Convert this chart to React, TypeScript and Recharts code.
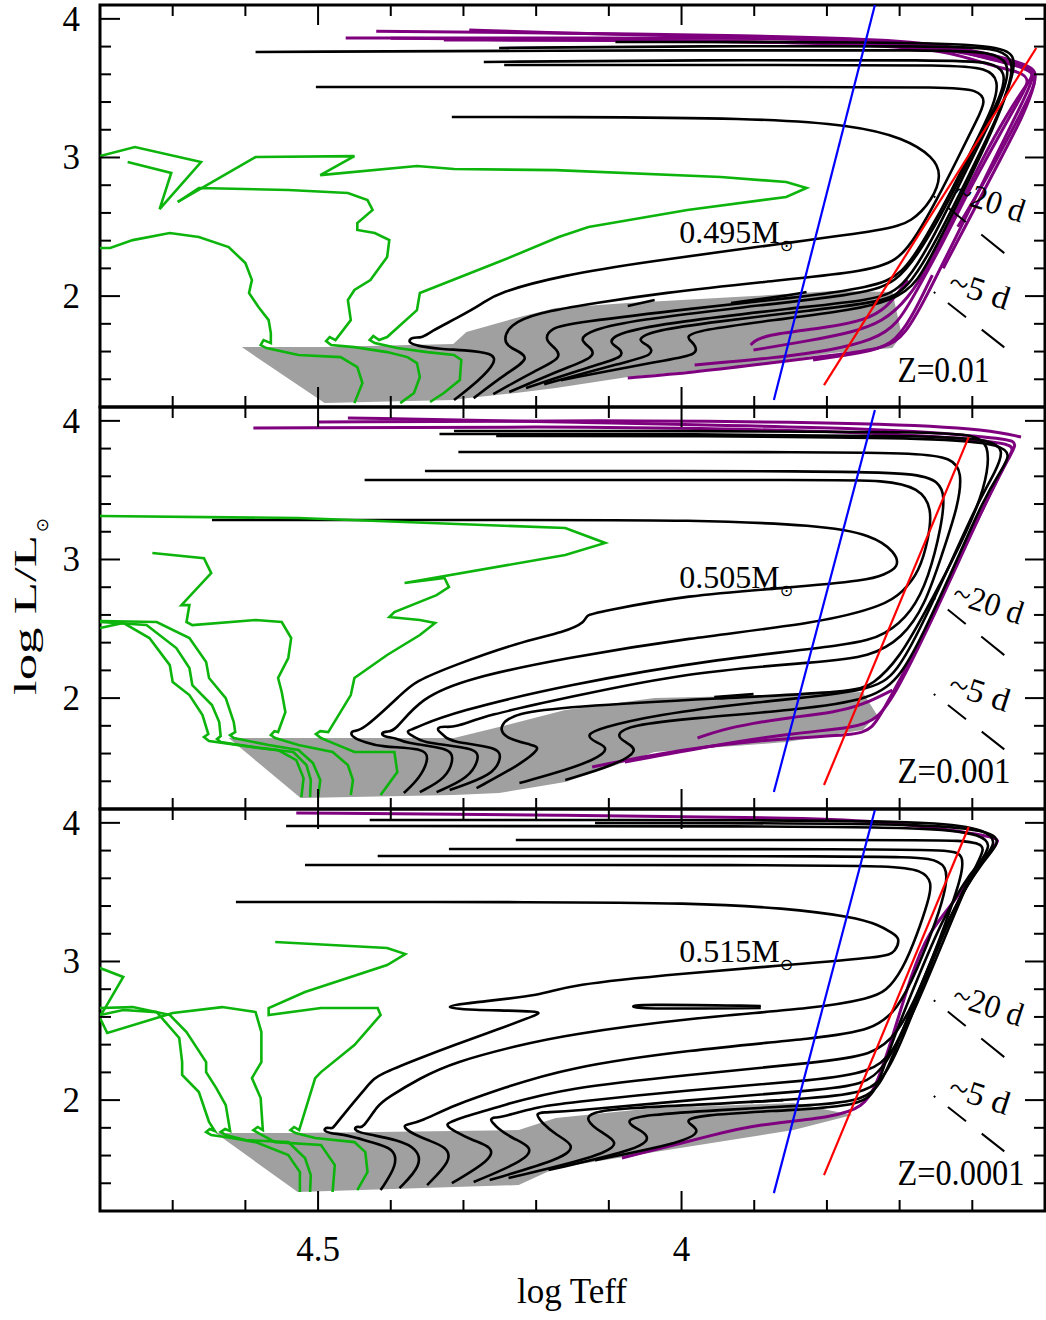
import React from "react";
import { ComposedChart, Line, Area, Scatter, XAxis, YAxis, ReferenceArea } from "recharts";

const FONT = "'Liberation Serif', 'DejaVu Serif', serif";
const BLACK = "#000000";
const GREEN = "#0cb40c";
const PURPLE = "#7f007f";
const GRAY = "#a0a0a0";

// axis ticks
const X_TICKS = [3.6, 3.7, 3.8, 3.9, 4, 4.1, 4.2, 4.3, 4.4, 4.5, 4.6, 4.7];
const Y_TICKS = [1.4, 1.6, 1.8, 2, 2.2, 2.4, 2.6, 2.8, 3, 3.2, 3.4, 3.6, 3.8, 4];

// period lines (same in every panel): [logTeff, logL]
const DASH_20 = [[3.653, 2.72], [3.556, 2.31]];
const DASH_5 = [[3.653, 2.03], [3.556, 1.63]];

// ---------- Z = 0.01 ----------
const GRAY_Z01 = [[4.605, 1.632, 1.632], [4.491, 1.228, 1.632], [4.314, 1.25, 1.654], [4.296, 1.264, 1.741], [4.228, 1.301, 1.842], [4.173, 1.337, 1.914], [4.074, 1.416, 1.95], [3.901, 1.503, 2.0], [3.792, 1.589, 2.036], [3.71, 1.625, 2.029], [3.697, 1.719, 1.719]];
const B1_Z01 = [[4.313, 1.25], [4.278, 1.394], [4.255, 1.524], [4.259, 1.589], [4.3, 1.611], [4.332, 1.618], [4.364, 1.64], [4.377, 1.668], [4.371, 1.705], [4.357, 1.697], [4.346, 1.741], [4.309, 1.842], [4.272, 1.95], [4.255, 2.022], [4.163, 2.152], [4.05, 2.246], [3.856, 2.383], [3.719, 2.477], [3.683, 2.534], [3.655, 2.693], [3.642, 2.873], [3.653, 3.003], [3.694, 3.14], [3.764, 3.234], [3.901, 3.285], [4.173, 3.292], [4.316, 3.292]];
const B2_Z01 = [[4.286, 1.264], [4.241, 1.445], [4.204, 1.56], [4.237, 1.625], [4.245, 1.683], [4.237, 1.791], [4.2, 1.878], [4.119, 1.95], [4.027, 2.022], [3.891, 2.101], [3.751, 2.174], [3.703, 2.246], [3.676, 2.44], [3.649, 2.693], [3.621, 2.982], [3.594, 3.27], [3.58, 3.415], [3.594, 3.487], [3.628, 3.508], [3.846, 3.508], [4.119, 3.508], [4.503, 3.508]];
const B3_Z01 = [[4.259, 1.293], [4.2, 1.466], [4.164, 1.553], [4.173, 1.625], [4.189, 1.683], [4.18, 1.77], [4.15, 1.806], [3.982, 1.914], [3.846, 1.986], [3.737, 2.065], [3.696, 2.152], [3.662, 2.44], [3.628, 2.765], [3.594, 3.126], [3.57, 3.378], [3.563, 3.559], [3.58, 3.645], [3.628, 3.667], [3.846, 3.667], [4.244, 3.667]];
const B4_Z01 = [[4.237, 1.308], [4.16, 1.481], [4.119, 1.56], [4.123, 1.625], [4.142, 1.683], [4.125, 1.755], [4.064, 1.827], [3.914, 1.921], [3.764, 2.008], [3.703, 2.08], [3.662, 2.404], [3.621, 2.801], [3.585, 3.198], [3.56, 3.451], [3.553, 3.617], [3.574, 3.689], [3.628, 3.703], [3.982, 3.703], [4.272, 3.689]];
const B5_Z01 = [[4.214, 1.337], [4.119, 1.503], [4.078, 1.56], [4.085, 1.625], [4.102, 1.668], [4.085, 1.741], [4.01, 1.813], [3.846, 1.914], [3.737, 1.972], [3.696, 2.044], [3.655, 2.404], [3.615, 2.837], [3.574, 3.27], [3.553, 3.523], [3.549, 3.689], [3.574, 3.761], [3.642, 3.775], [3.982, 3.775], [4.586, 3.761]];
const B6_Z01 = [[4.189, 1.365], [4.078, 1.524], [4.037, 1.575], [4.044, 1.647], [4.064, 1.683], [4.037, 1.755], [3.955, 1.813], [3.819, 1.899], [3.724, 1.957], [3.689, 2.044], [3.649, 2.404], [3.608, 2.837], [3.567, 3.27], [3.546, 3.559], [3.544, 3.718], [3.567, 3.79], [3.642, 3.804], [3.982, 3.804], [4.251, 3.79]];
const B7_Z01 = [[4.166, 1.394], [4.023, 1.539], [3.976, 1.575], [3.982, 1.661], [3.996, 1.705], [3.976, 1.755], [3.873, 1.827], [3.764, 1.899], [3.71, 1.972], [3.676, 2.08], [3.642, 2.44], [3.601, 2.873], [3.563, 3.306], [3.544, 3.595], [3.54, 3.739], [3.567, 3.811], [3.71, 3.833], [4.091, 3.833]];
const S1_Z01 = [[4.074, 1.928], [4.037, 1.972]];
const S2_Z01 = [[3.932, 1.95], [3.86, 2.0], [3.828, 2.029]];
const P1_Z01 = [[4.074, 1.409], [3.982, 1.452], [3.901, 1.503], [3.788, 1.575], [3.719, 1.625], [3.692, 1.719], [3.662, 2.008], [3.628, 2.368], [3.594, 2.729], [3.56, 3.09], [3.533, 3.378], [3.515, 3.573], [3.519, 3.645], [3.546, 3.689], [3.601, 3.761], [3.71, 3.833], [3.982, 3.876], [4.173, 3.898], [4.292, 3.92]];
const P2_Z01 = [[3.901, 1.611], [3.819, 1.683], [3.764, 1.741], [3.724, 1.813], [3.689, 1.972], [3.655, 2.26], [3.621, 2.621], [3.587, 2.982], [3.553, 3.306], [3.526, 3.523], [3.512, 3.617], [3.533, 3.66], [3.587, 3.718], [3.655, 3.833], [3.846, 3.862], [4.119, 3.862], [4.462, 3.862]];
const P3_Z01 = [[3.982, 1.503], [3.873, 1.553], [3.792, 1.611], [3.737, 1.683], [3.703, 1.791], [3.676, 2.044], [3.642, 2.368], [3.608, 2.729], [3.574, 3.054], [3.54, 3.378], [3.519, 3.559], [3.533, 3.617], [3.574, 3.66], [3.628, 3.761], [3.71, 3.811], [3.982, 3.847], [4.327, 3.847]];
const P4_Z01 = [[3.905, 1.647], [3.891, 1.719], [3.801, 1.77], [3.747, 1.827], [3.717, 1.914], [3.689, 2.116]];
const P5_Z01 = [[3.819, 1.539], [3.751, 1.589], [3.71, 1.647], [3.685, 1.827], [3.655, 2.152]];
const P6_Z01 = [[3.64, 2.2], [3.6, 2.6], [3.56, 3.0], [3.53, 3.3], [3.512, 3.55], [3.515, 3.62], [3.56, 3.7], [3.64, 3.79], [3.8, 3.83], [4.1, 3.85], [4.4, 3.86]];
const P7_Z01 = [[3.62, 2.5], [3.58, 2.85], [3.545, 3.2], [3.52, 3.45], [3.508, 3.62], [3.53, 3.68], [3.6, 3.78], [3.7, 3.85], [3.9, 3.88], [4.2, 3.9], [4.42, 3.91]];
const G1_Z01 = [[4.45, 1.228], [4.439, 1.373], [4.446, 1.488], [4.469, 1.56], [4.527, 1.575], [4.571, 1.625], [4.579, 1.647], [4.575, 1.683], [4.565, 1.661], [4.565, 1.733], [4.568, 1.827], [4.582, 1.921], [4.595, 2.022], [4.591, 2.116], [4.6, 2.238], [4.623, 2.354], [4.664, 2.426], [4.704, 2.455], [4.755, 2.404], [4.786, 2.347], [4.8, 2.347]];
const G2_Z01 = [[4.387, 1.228], [4.368, 1.301], [4.36, 1.416], [4.364, 1.517], [4.377, 1.56], [4.405, 1.596], [4.45, 1.632], [4.482, 1.647], [4.489, 1.676], [4.484, 1.705], [4.476, 1.683], [4.455, 1.827], [4.459, 1.972], [4.45, 2.044], [4.428, 2.116], [4.405, 2.282], [4.402, 2.404], [4.422, 2.455], [4.446, 2.477], [4.446, 2.527], [4.425, 2.621], [4.432, 2.693], [4.459, 2.744], [4.541, 2.765], [4.664, 2.78], [4.693, 2.679]];
const G3_Z01 = [[4.346, 1.236], [4.327, 1.301], [4.305, 1.394], [4.303, 1.539], [4.313, 1.575], [4.35, 1.596], [4.391, 1.625], [4.422, 1.661], [4.429, 1.683], [4.424, 1.712], [4.416, 1.683], [4.405, 1.705], [4.364, 1.899], [4.36, 2.022], [4.245, 2.26], [4.169, 2.426], [4.128, 2.498], [3.992, 2.621], [3.856, 2.715], [3.828, 2.78], [3.856, 2.823], [3.946, 2.859], [4.173, 2.909], [4.313, 2.917], [4.364, 2.938], [4.497, 2.873], [4.45, 3.01], [4.586, 3.003], [4.693, 2.679]];
const GZ_Z01 = [[4.762, 2.967], [4.702, 2.888], [4.718, 2.628], [4.661, 2.967], [4.752, 3.075], [4.8, 3.01]];
const BLUE_Z01 = [[3.873, 1.25], [3.734, 4.1]];
const RED_Z01 = [[3.804, 1.358], [3.512, 3.79]];
const LABELS_Z01 = [
  { x: 4.003, y: 2.383, kind: "mass", text: "0.495M" },
  { x: 3.703, y: 1.38, kind: "z", text: "Z=0.01" },
  { x: 3.576, y: 2.686, kind: "per", text: "~20 d" },
  { x: 3.59, y: 2.044, kind: "per", text: "~5 d" },
];

// ---------- Z = 0.001 ----------
const GRAY_Z001 = [[4.623, 1.712, 1.712], [4.524, 1.279, 1.712], [4.313, 1.301, 1.712], [4.251, 1.315, 1.791], [4.16, 1.394, 1.914], [4.037, 1.611, 2.0], [3.856, 1.683, 2.022], [3.751, 1.77, 2.044], [3.731, 1.878, 1.878]];
const B1_Z001 = [[4.382, 1.315], [4.36, 1.423], [4.347, 1.567], [4.354, 1.64], [4.414, 1.647], [4.436, 1.683], [4.45, 1.712], [4.456, 1.741], [4.451, 1.77], [4.441, 1.755], [4.382, 2.044], [4.368, 2.116], [4.313, 2.238], [4.223, 2.404], [4.16, 2.477], [4.132, 2.549], [4.132, 2.599], [4.114, 2.621], [3.992, 2.744], [3.856, 2.794], [3.741, 2.852], [3.723, 2.888], [3.7, 2.946], [3.706, 3.054], [3.737, 3.176], [3.809, 3.249], [3.992, 3.285], [4.173, 3.285], [4.646, 3.285]];
const B2_Z001 = [[4.36, 1.322], [4.323, 1.423], [4.313, 1.567], [4.319, 1.64], [4.382, 1.676], [4.391, 1.712], [4.409, 1.719], [4.414, 1.748], [4.405, 1.762], [4.395, 1.755], [4.36, 2.0], [4.292, 2.145], [4.16, 2.289], [3.992, 2.433], [3.809, 2.542], [3.719, 2.671], [3.696, 2.765], [3.673, 2.909], [3.66, 3.155], [3.655, 3.371], [3.673, 3.516], [3.719, 3.573], [3.809, 3.573], [4.173, 3.573], [4.436, 3.573]];
const B3_Z001 = [[4.337, 1.322], [4.292, 1.423], [4.278, 1.567], [4.282, 1.64], [4.354, 1.676], [4.364, 1.712], [4.373, 1.733], [4.379, 1.762], [4.369, 1.777], [4.364, 1.791], [4.313, 1.899], [4.16, 2.094], [3.946, 2.289], [3.764, 2.383], [3.719, 2.455], [3.683, 2.621], [3.66, 2.866], [3.642, 3.249], [3.638, 3.465], [3.646, 3.559], [3.673, 3.624], [3.809, 3.638], [4.173, 3.638], [4.353, 3.638]];
const B4_Z001 = [[4.319, 1.337], [4.259, 1.445], [4.248, 1.567], [4.251, 1.647], [4.319, 1.683], [4.327, 1.733], [4.333, 1.755], [4.337, 1.784], [4.327, 1.798], [4.313, 1.784], [4.268, 1.878], [4.16, 2.0], [3.992, 2.188], [3.809, 2.26], [3.741, 2.296], [3.696, 2.433], [3.665, 2.671], [3.642, 3.032], [3.619, 3.393], [3.614, 3.631], [3.628, 3.732], [3.673, 3.768], [3.809, 3.775], [4.173, 3.775], [4.307, 3.775]];
const B5_Z001 = [[4.282, 1.351], [4.223, 1.517], [4.193, 1.64], [4.204, 1.661], [4.245, 1.712], [4.251, 1.806], [4.228, 1.892], [4.16, 1.936], [3.946, 2.0], [3.764, 2.044], [3.737, 2.094], [3.7, 2.289], [3.665, 2.621], [3.628, 2.982], [3.591, 3.393], [3.578, 3.645], [3.578, 3.826], [3.594, 3.898], [3.655, 3.92], [3.982, 3.927], [4.313, 3.927]];
const B6_Z001 = [[4.223, 1.387], [4.173, 1.459], [4.119, 1.553], [4.098, 1.64], [4.119, 1.683], [4.132, 1.733], [4.112, 1.784], [4.037, 1.878], [3.901, 1.972], [3.737, 2.044], [3.703, 2.188], [3.669, 2.527], [3.628, 2.996], [3.594, 3.393], [3.567, 3.645], [3.556, 3.79], [3.574, 3.862], [3.642, 3.891], [3.982, 3.905], [4.333, 3.905]];
const B7_Z001 = [[4.16, 1.409], [4.091, 1.517], [4.057, 1.625], [4.078, 1.683], [4.091, 1.733], [4.071, 1.806], [3.982, 1.856], [3.846, 1.914], [3.737, 1.986], [3.696, 2.166], [3.662, 2.527], [3.621, 2.996], [3.585, 3.429], [3.56, 3.645], [3.547, 3.754], [3.56, 3.826], [3.628, 3.876], [3.982, 3.891], [4.255, 3.891]];
const S1_Z001 = [[3.955, 2.008], [3.901, 2.029]];
const P1_Z001 = [[4.123, 1.503], [3.992, 1.64], [3.856, 1.712], [3.764, 1.733], [3.737, 1.77], [3.719, 1.95], [3.673, 2.383], [3.628, 2.909], [3.583, 3.393], [3.546, 3.775], [3.535, 3.862], [3.583, 3.883], [3.719, 3.948], [4.173, 3.992], [4.459, 4.021]];
const P2_Z001 = [[4.078, 1.539], [3.955, 1.661], [3.846, 1.748], [3.764, 1.784], [3.73, 1.842], [3.703, 2.058], [3.662, 2.491], [3.621, 2.96], [3.58, 3.429], [3.549, 3.754], [3.539, 3.826], [3.587, 3.862], [3.737, 3.92], [4.119, 3.963], [4.589, 3.948]];
const P3_Z001 = [[3.978, 1.712], [3.946, 1.77], [3.901, 1.82], [3.856, 1.856], [3.788, 1.899], [3.751, 1.95], [3.71, 2.058]];
const P4_Z001 = [[3.533, 3.883], [3.574, 3.934], [3.71, 3.985], [4.119, 4.006], [4.5, 3.992]];
const G1_Z001 = [[4.414, 1.301], [4.391, 1.466], [4.395, 1.611], [4.45, 1.611], [4.486, 1.69], [4.496, 1.712], [4.503, 1.741], [4.497, 1.762], [4.486, 1.755], [4.455, 2.022], [4.45, 2.145], [4.405, 2.311], [4.36, 2.455], [4.339, 2.542], [4.36, 2.563], [4.402, 2.585], [4.395, 2.621], [4.337, 2.743], [4.32, 2.801], [4.326, 2.866], [4.381, 2.83], [4.16, 3.032], [4.105, 3.119], [4.16, 3.227], [4.527, 3.299], [4.8, 3.314]];
const G2_Z001 = [[4.455, 1.301], [4.452, 1.409], [4.459, 1.517], [4.48, 1.611], [4.527, 1.661], [4.559, 1.712], [4.565, 1.733], [4.56, 1.762], [4.555, 1.755], [4.545, 1.899], [4.55, 2.044], [4.555, 2.145], [4.541, 2.289], [4.537, 2.433], [4.55, 2.549], [4.586, 2.563], [4.673, 2.527], [4.681, 2.549], [4.677, 2.671], [4.688, 2.671], [4.647, 2.902], [4.657, 3.01], [4.728, 3.047]];
const G3_Z001 = [[4.523, 1.286], [4.52, 1.423], [4.53, 1.553], [4.555, 1.625], [4.609, 1.661], [4.65, 1.69], [4.657, 1.719], [4.651, 1.741], [4.659, 1.878], [4.677, 2.022], [4.7, 2.116], [4.704, 2.238], [4.732, 2.433], [4.768, 2.542], [4.8, 2.505]];
const G4_Z001 = [[4.511, 1.286], [4.51, 1.409], [4.516, 1.517], [4.534, 1.611], [4.582, 1.64], [4.634, 1.683], [4.639, 1.705], [4.634, 1.726], [4.636, 1.827], [4.646, 1.95], [4.673, 2.094], [4.677, 2.217], [4.695, 2.361], [4.736, 2.527], [4.8, 2.549]];
const G5_Z001 = [[4.5, 1.286], [4.497, 1.409], [4.507, 1.531], [4.527, 1.625], [4.568, 1.661], [4.616, 1.712], [4.621, 1.733], [4.614, 1.755], [4.616, 1.827], [4.627, 2.0], [4.65, 2.145], [4.654, 2.26], [4.677, 2.433], [4.722, 2.549], [4.8, 2.556]];
const BLUE_Z001 = [[3.873, 1.322], [3.734, 4.078]];
const RED_Z001 = [[3.804, 1.373], [3.605, 3.883]];
const LABELS_Z001 = [
  { x: 4.003, y: 2.794, kind: "mass", text: "0.505M" },
  { x: 3.703, y: 1.387, kind: "z", text: "Z=0.001" },
  { x: 3.578, y: 2.686, kind: "per", text: "~20 d" },
  { x: 3.59, y: 2.044, kind: "per", text: "~5 d" },
];

// ---------- Z = 0.0001 ----------
const GRAY_Z0001 = [[4.641, 1.762, 1.762], [4.528, 1.337, 1.762], [4.224, 1.387, 1.784], [4.173, 1.51, 1.871], [4.037, 1.625, 1.943], [3.846, 1.784, 1.979], [3.765, 1.892, 1.892]];
const B1_Z0001 = [[4.414, 1.351], [4.391, 1.531], [4.395, 1.654], [4.428, 1.697], [4.459, 1.748], [4.486, 1.762], [4.493, 1.784], [4.488, 1.806], [4.48, 1.791], [4.477, 1.82], [4.428, 2.13], [4.418, 2.181], [4.36, 2.303], [4.313, 2.397], [4.255, 2.505], [4.2, 2.614], [4.187, 2.643], [4.296, 2.65], [4.33, 2.671], [4.296, 2.7], [4.187, 2.758], [4.16, 2.83], [3.992, 2.917], [3.856, 2.974], [3.719, 3.032], [3.706, 3.068], [3.699, 3.169], [3.71, 3.205], [3.728, 3.263], [3.764, 3.321], [3.856, 3.386], [3.992, 3.422], [4.173, 3.429], [4.613, 3.429]];
const B2_Z0001 = [[4.388, 1.365], [4.357, 1.531], [4.364, 1.654], [4.391, 1.712], [4.425, 1.748], [4.446, 1.77], [4.451, 1.798], [4.444, 1.813], [4.439, 1.791], [4.418, 1.964], [4.405, 2.015], [4.36, 2.159], [4.313, 2.274], [4.223, 2.397], [4.16, 2.469], [3.992, 2.592], [3.809, 2.664], [3.741, 2.736], [3.719, 2.78], [3.696, 2.938], [3.676, 3.191], [3.66, 3.443], [3.655, 3.573], [3.669, 3.66], [3.71, 3.689], [3.846, 3.696], [4.518, 3.696]];
const B3_Z0001 = [[4.35, 1.387], [4.316, 1.567], [4.323, 1.661], [4.35, 1.712], [4.371, 1.762], [4.377, 1.784], [4.383, 1.813], [4.376, 1.827], [4.36, 1.842], [4.313, 1.964], [4.245, 2.087], [4.16, 2.231], [3.992, 2.361], [3.809, 2.448], [3.737, 2.505], [3.703, 2.65], [3.676, 2.938], [3.649, 3.299], [3.635, 3.552], [3.635, 3.689], [3.655, 3.746], [3.71, 3.761], [4.418, 3.761]];
const B4_Z0001 = [[4.316, 1.401], [4.262, 1.567], [4.259, 1.661], [4.289, 1.712], [4.312, 1.777], [4.319, 1.798], [4.324, 1.827], [4.317, 1.842], [4.305, 1.871], [4.245, 1.964], [4.16, 2.087], [3.992, 2.181], [3.809, 2.274], [3.737, 2.325], [3.703, 2.469], [3.669, 2.83], [3.635, 3.299], [3.614, 3.624], [3.612, 3.768], [3.628, 3.804], [3.71, 3.811], [4.32, 3.811]];
const B5_Z0001 = [[4.286, 1.409], [4.214, 1.567], [4.204, 1.661], [4.234, 1.726], [4.255, 1.806], [4.259, 1.834], [4.264, 1.863], [4.256, 1.878], [4.251, 1.871], [4.2, 1.95], [4.16, 1.979], [3.992, 2.073], [3.809, 2.145], [3.741, 2.202], [3.71, 2.325], [3.676, 2.686], [3.642, 3.119], [3.608, 3.552], [3.587, 3.768], [3.583, 3.84], [3.608, 3.876], [3.71, 3.876], [4.228, 3.876]];
const B6_Z0001 = [[4.264, 1.423], [4.16, 1.582], [4.146, 1.676], [4.173, 1.748], [4.193, 1.842], [4.196, 1.871], [4.2, 1.899], [4.192, 1.914], [4.16, 1.914], [3.992, 2.0], [3.809, 2.073], [3.751, 2.109], [3.719, 2.231], [3.683, 2.65], [3.649, 3.083], [3.614, 3.516], [3.587, 3.732], [3.574, 3.84], [3.587, 3.912], [3.642, 3.963], [3.846, 3.977], [4.544, 3.977]];
const B7_Z0001 = [[4.238, 1.438], [4.105, 1.604], [4.085, 1.697], [4.112, 1.77], [4.132, 1.856], [4.125, 1.914], [4.078, 1.943], [3.982, 1.964], [3.809, 2.015], [3.744, 2.058], [3.717, 2.181], [3.685, 2.578], [3.655, 3.011], [3.621, 3.443], [3.58, 3.768], [3.567, 3.862], [3.58, 3.948], [3.642, 4.006], [3.846, 4.021], [4.429, 4.021]];
const B8_Z0001 = [[4.183, 1.495], [4.05, 1.654], [4.044, 1.748], [4.064, 1.798], [4.078, 1.856], [4.05, 1.892], [3.955, 1.928], [3.809, 1.964], [3.751, 2.0], [3.724, 2.109], [3.696, 2.505], [3.662, 2.938], [3.628, 3.371], [3.587, 3.718], [3.56, 3.862], [3.574, 3.934], [3.642, 3.992], [3.982, 3.999], [4.119, 3.999]];
const B9_Z0001 = [[4.119, 1.567], [3.982, 1.712], [3.976, 1.798], [3.996, 1.842], [3.982, 1.892], [3.846, 1.928], [3.751, 1.964], [3.731, 2.073], [3.71, 2.433], [3.676, 2.866], [3.642, 3.299], [3.601, 3.66], [3.574, 3.804]];
const S1_Z0001 = [[3.905, 1.986], [3.86, 2.0]];
const LOOP_Z0001 = [[3.891, 2.679], [4.064, 2.693], [4.07, 2.671], [4.05, 2.657], [3.891, 2.664]];
const P1_Z0001 = [[4.082, 1.582], [3.946, 1.762], [3.901, 1.82], [3.788, 1.878], [3.751, 1.95], [3.733, 2.087], [3.71, 2.448], [3.683, 2.924], [3.66, 3.212], [3.628, 3.407], [3.574, 3.818], [3.56, 3.876], [3.578, 3.905], [3.628, 3.948], [3.719, 4.006], [3.809, 4.035], [4.173, 4.057], [4.53, 4.071]];
const G1_Z0001 = [[4.525, 1.337], [4.525, 1.481], [4.541, 1.604], [4.586, 1.697], [4.619, 1.726], [4.647, 1.748], [4.654, 1.77], [4.649, 1.791], [4.642, 1.777], [4.65, 1.842], [4.664, 2.058], [4.687, 2.181], [4.687, 2.274], [4.691, 2.448], [4.722, 2.635], [4.768, 2.65], [4.8, 2.614]];
const G2_Z0001 = [[4.511, 1.337], [4.51, 1.459], [4.518, 1.582], [4.541, 1.697], [4.6, 1.712], [4.627, 1.748], [4.634, 1.77], [4.628, 1.791], [4.621, 1.777], [4.627, 1.964], [4.64, 2.087], [4.654, 2.202], [4.654, 2.274], [4.681, 2.491], [4.704, 2.614], [4.755, 2.671], [4.8, 2.664]];
const G3_Z0001 = [[4.48, 1.337], [4.477, 1.531], [4.496, 1.676], [4.559, 1.697], [4.582, 1.762], [4.589, 1.784], [4.583, 1.806], [4.576, 1.784], [4.579, 2.015], [4.591, 2.159], [4.578, 2.274], [4.578, 2.491], [4.586, 2.635], [4.632, 2.671], [4.7, 2.628], [4.79, 2.484], [4.8, 2.592]];
const G4_Z0001 = [[4.446, 1.351], [4.432, 1.481], [4.435, 1.625], [4.45, 1.697], [4.504, 1.726], [4.531, 1.762], [4.538, 1.784], [4.533, 1.806], [4.526, 1.784], [4.504, 2.159], [4.496, 2.202], [4.45, 2.397], [4.414, 2.614], [4.418, 2.664], [4.496, 2.664], [4.568, 2.614], [4.568, 2.664], [4.518, 2.78], [4.405, 2.974], [4.38, 3.054], [4.405, 3.097], [4.559, 3.14]];
const GZ_Z0001 = [[4.8, 2.953], [4.768, 2.888], [4.793, 2.664], [4.8, 2.606]];
const BLUE_Z0001 = [[3.873, 1.329], [3.734, 4.093]];
const RED_Z0001 = [[3.804, 1.459], [3.605, 3.97]];
const LABELS_Z0001 = [
  { x: 4.003, y: 2.996, kind: "mass", text: "0.515M" },
  { x: 3.703, y: 1.387, kind: "z", text: "Z=0.0001" },
  { x: 3.578, y: 2.686, kind: "per", text: "~20 d" },
  { x: 3.59, y: 2.036, kind: "per", text: "~5 d" },
];

// rendered widths of the label strings (px)
const TEXT_WIDTH: Record<string, number> = {
  "Z=0.01": 92, "Z=0.001": 113, "Z=0.0001": 127,
  "~20 d": 72, "~5 d": 62,
};

const pts = (a: number[][]) => a.map(([x, y]) => ({ x, y }));
const band = (a: number[][]) => a.map(([x, lo, hi]) => ({ x, y: [lo, hi] }));

const PANELS = [
  {
    gray: GRAY_Z01,
    black: [B1_Z01, B2_Z01, B3_Z01, B4_Z01, B5_Z01, B6_Z01, B7_Z01, S1_Z01, S2_Z01],
    purple: [P1_Z01, P2_Z01, P3_Z01, P4_Z01, P5_Z01, P6_Z01, P7_Z01],
    green: [G1_Z01, G2_Z01, G3_Z01, GZ_Z01],
    blue: BLUE_Z01, red: RED_Z01, labels: LABELS_Z01,
  },
  {
    gray: GRAY_Z001,
    black: [B1_Z001, B2_Z001, B3_Z001, B4_Z001, B5_Z001, B6_Z001, B7_Z001, S1_Z001],
    purple: [P1_Z001, P2_Z001, P3_Z001, P4_Z001],
    green: [G1_Z001, G2_Z001, G3_Z001, G4_Z001, G5_Z001],
    blue: BLUE_Z001, red: RED_Z001, labels: LABELS_Z001,
  },
  {
    gray: GRAY_Z0001,
    black: [B1_Z0001, B2_Z0001, B3_Z0001, B4_Z0001, B5_Z0001, B6_Z0001, B7_Z0001, B8_Z0001, B9_Z0001, S1_Z0001, LOOP_Z0001],
    purple: [P1_Z0001],
    green: [G1_Z0001, G2_Z0001, G3_Z0001, G4_Z0001, GZ_Z0001],
    blue: BLUE_Z0001, red: RED_Z0001, labels: LABELS_Z0001,
  },
];

const isHalf = (v: number) => Math.abs(v * 2 - Math.round(v * 2)) < 1e-6;
const isInt = (v: number) => Math.abs(v - Math.round(v)) < 1e-6;

function XTick(props: any) {
  const { x, y, payload, side, showLabel } = props;
  const v = payload.value;
  const major = isHalf(v);
  const len = major ? 20 : 11;
  const dir = side === "bottom" ? -1 : 1;
  return (
    <g>
      <line x1={x} x2={x} y1={y} y2={y + dir * len} stroke={BLACK} strokeWidth={2} />
      {showLabel && major && (
        <text x={x} y={y + 50} textAnchor="middle" fontFamily={FONT} fontSize={35}>
          {String(v)}
        </text>
      )}
    </g>
  );
}

function YTick(props: any) {
  const { x, y, payload, side } = props;
  const v = payload.value;
  const major = isInt(v);
  const len = major ? 20 : 11;
  const dir = side === "left" ? 1 : -1;
  return (
    <g>
      <line x1={x} x2={x + dir * len} y1={y} y2={y} stroke={BLACK} strokeWidth={2} />
      {side === "left" && major && (
        <text x={x - 20} y={y + 12} textAnchor="end" fontFamily={FONT} fontSize={35}>
          {String(v)}
        </text>
      )}
    </g>
  );
}

function renderLabel(props: any) {
  const { cx, cy, payload } = props;
  const w = TEXT_WIDTH[payload.text];
  if (payload.kind === "per") {
    return (
      <text x={cx} y={cy} textAnchor="middle" dominantBaseline="central" transform={`rotate(18 ${cx} ${cy})`}
        fontFamily={FONT} fontSize={33} textLength={w} lengthAdjust="spacingAndGlyphs">
        {payload.text}
      </text>
    );
  }
  if (payload.kind === "mass") {
    return (
      <g>
        <text x={cx} y={cy} fontFamily={FONT} fontSize={32}>
          {payload.text}
        </text>
        <text x={cx + 107} y={cy + 2} textAnchor="middle" dominantBaseline="central" fontFamily="'DejaVu Sans'" fontSize={16}>
          ⊙
        </text>
      </g>
    );
  }
  return (
    <text x={cx} y={cy} fontFamily={FONT} fontSize={35} textLength={w} lengthAdjust="spacingAndGlyphs">
      {payload.text}
    </text>
  );
}

const axisCommon = {
  type: "number" as const,
  allowDataOverflow: true,
  mirror: true,
  axisLine: false,
  tickLine: false,
  tickSize: 0,
  tickMargin: 0,
  interval: 0 as const,
};

function Panel({ cfg, top, last }: { cfg: any; top: number; last: boolean }) {
  const h = last ? 472 : 412;
  return (
    <div style={{ position: "absolute", left: 0, top, width: 1046, height: h }}>
      <ComposedChart width={1046} height={h} margin={{ top: 5, right: 1, bottom: last ? 65 : 5, left: 100 }}>
        <XAxis {...axisCommon} dataKey="x" domain={[3.5, 4.8]} reversed ticks={X_TICKS}
          tick={(p: any) => <XTick {...p} side="bottom" showLabel={last} />} />
        <XAxis {...axisCommon} xAxisId="top" orientation="top" dataKey="x" domain={[3.5, 4.8]} reversed ticks={X_TICKS}
          tick={(p: any) => <XTick {...p} side="top" showLabel={false} />} />
        <YAxis {...axisCommon} dataKey="y" domain={[1.2, 4.1]} ticks={Y_TICKS}
          tick={(p: any) => <YTick {...p} side="left" />} />
        <YAxis {...axisCommon} yAxisId="right" orientation="right" dataKey="y" domain={[1.2, 4.1]} ticks={Y_TICKS}
          tick={(p: any) => <YTick {...p} side="right" />} />

        <Area data={band(cfg.gray)} dataKey="y" type="linear" stroke="none" fill={GRAY} fillOpacity={1}
          dot={false} activeDot={false} isAnimationActive={false} />

        {cfg.purple.map((d: number[][], i: number) => (
          <Line key={`p${i}`} data={pts(d)} dataKey="y" type="basis" stroke={PURPLE} strokeWidth={3}
            dot={false} activeDot={false} isAnimationActive={false} />
        ))}
        {cfg.black.map((d: number[][], i: number) => (
          <Line key={`b${i}`} data={pts(d)} dataKey="y" type="basis" stroke={BLACK} strokeWidth={2.6}
            dot={false} activeDot={false} isAnimationActive={false} />
        ))}
        {cfg.green.map((d: number[][], i: number) => (
          <Line key={`g${i}`} data={pts(d)} dataKey="y" type="linear" stroke={GREEN} strokeWidth={2.6}
            dot={false} activeDot={false} isAnimationActive={false} />
        ))}
        <Line data={pts(cfg.blue)} dataKey="y" type="linear" stroke="#0000ff" strokeWidth={2.2}
          dot={false} activeDot={false} isAnimationActive={false} />
        <Line data={pts(cfg.red)} dataKey="y" type="linear" stroke="#ff0000" strokeWidth={2.2}
          dot={false} activeDot={false} isAnimationActive={false} />
        <Line data={pts(DASH_20)} dataKey="y" type="linear" stroke={BLACK} strokeWidth={2} strokeDasharray="2 16 23 20 30"
          dot={false} activeDot={false} isAnimationActive={false} />
        <Line data={pts(DASH_5)} dataKey="y" type="linear" stroke={BLACK} strokeWidth={2} strokeDasharray="2 16 23 20 30"
          dot={false} activeDot={false} isAnimationActive={false} />
        <Scatter data={cfg.labels} shape={renderLabel} isAnimationActive={false} />

        <ReferenceArea x1={3.5} x2={4.8} y1={1.2} y2={4.1} fill="none" stroke={BLACK} strokeWidth={3} />
      </ComposedChart>
    </div>
  );
}

export default function App() {
  return (
    <div style={{ position: "absolute", left: 0, top: 0, width: 1046, height: 1320, background: "#fff" }}>
      {PANELS.map((p, i) => (
        <Panel key={i} cfg={p} top={i * 402} last={i === PANELS.length - 1} />
      ))}
      <svg width={1046} height={1320} style={{ position: "absolute", left: 0, top: 0, pointerEvents: "none" }}>
        <text x={572} y={1303} textAnchor="middle" fontFamily={FONT} fontSize={35}>
          log Teff
        </text>
        <g transform="translate(36 695) rotate(-90)">
          <text x={0} y={0} fontFamily={FONT} fontSize={32} textLength={160} lengthAdjust="spacingAndGlyphs">
            log L/L
          </text>
          <text x={170} y={6} textAnchor="middle" dominantBaseline="central" fontFamily="'DejaVu Sans'" fontSize={17}>
            ⊙
          </text>
        </g>
      </svg>
    </div>
  );
}
